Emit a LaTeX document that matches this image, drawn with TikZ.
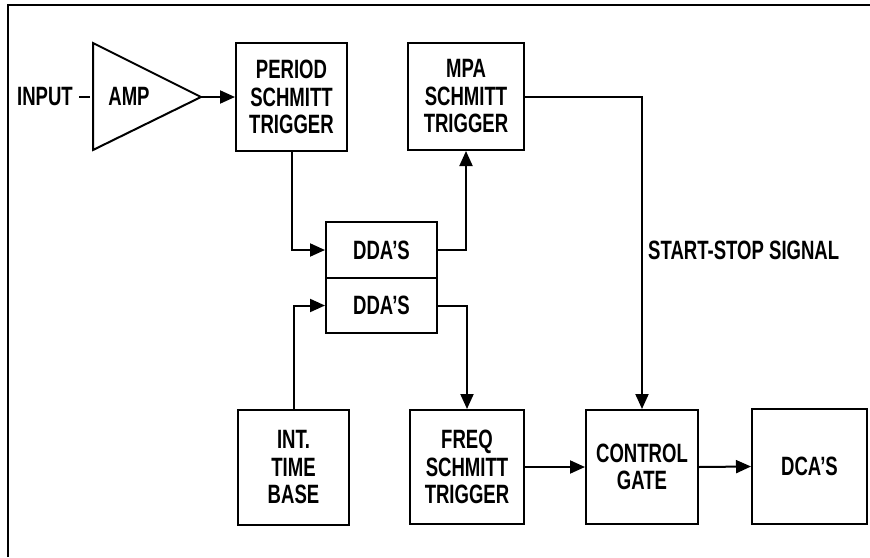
\documentclass[tikz,border=0pt]{standalone}
\usepackage{fontspec}
\setmainfont[FakeStretch=0.70]{Liberation Sans}
\usetikzlibrary{arrows.meta}
\tikzset{
  bbox/.style  ={draw=black,line width=2pt,inner sep=0pt,align=center},
  bline/.style ={line width=2pt},
  barr/.style  ={bline,-{Triangle[length=15pt,width=13pt]}},
  btxt/.style  ={inner sep=0pt},
}
\newcommand{\blk}[6]{\node[bbox,minimum width=#4,minimum height=#5] (#1) at (#2,#3) {#6};}
\begin{document}
\begin{tikzpicture}[x=1pt,y=-1pt,font=\fontsize{26.5}{27.5}\selectfont\bfseries]
  \useasboundingbox (0,0) rectangle (870,557);
  \draw[line width=1.5pt] (8,557) -- (8,5) -- (870,5);
  \node[btxt] (inp) at (45,97) {INPUT};
  \draw[bline,line join=miter] (93,43) -- (201,97) -- (93,150) -- cycle;
  \coordinate (ampin) at (93,97);  \coordinate (ampout) at (201,97);
  \node[btxt] (amp) at (129,96) {AMP};
  \blk{period}{291.5}{97}{111}{108}{PERIOD\\SCHMITT\\TRIGGER}
  \blk{mpa}{466}{96.5}{116}{107}{MPA\\SCHMITT\\TRIGGER}
  \blk{ddaA}{381.5}{250}{111}{56}{DDA'S}
  \blk{ddaB}{381.5}{305.5}{111}{55}{DDA'S}
  \blk{itb}{293.5}{467.5}{111}{115}{INT.\\TIME\\BASE}
  \blk{freq}{467}{467}{114}{114}{FREQ\\SCHMITT\\TRIGGER}
  \blk{ctl}{642}{467}{112}{114}{CONTROL\\GATE}
  \blk{dca}{809.5}{466.5}{115}{115}{DCA'S}
  \node[btxt,anchor=west] (sss) at (648,250) {START-STOP SIGNAL};
  \draw[bline,shorten <=6pt,shorten >=3pt] (inp.east) -- (ampin);
  \draw[barr] (ampout) -- (period.west);
  \draw[barr] (period.south) |- (ddaA.west);
  \draw[barr] (ddaA.east) -| (mpa.south);
  \draw[barr] (mpa.east) -| (ctl.north);
  \draw[barr] (itb.north) |- (ddaB.west);
  \draw[barr] (ddaB.east) -| (freq.north);
  \draw[barr] (freq.east) -- (ctl.west);
  \draw[barr] (ctl.east) -- (dca.west);
\end{tikzpicture}
\end{document}
